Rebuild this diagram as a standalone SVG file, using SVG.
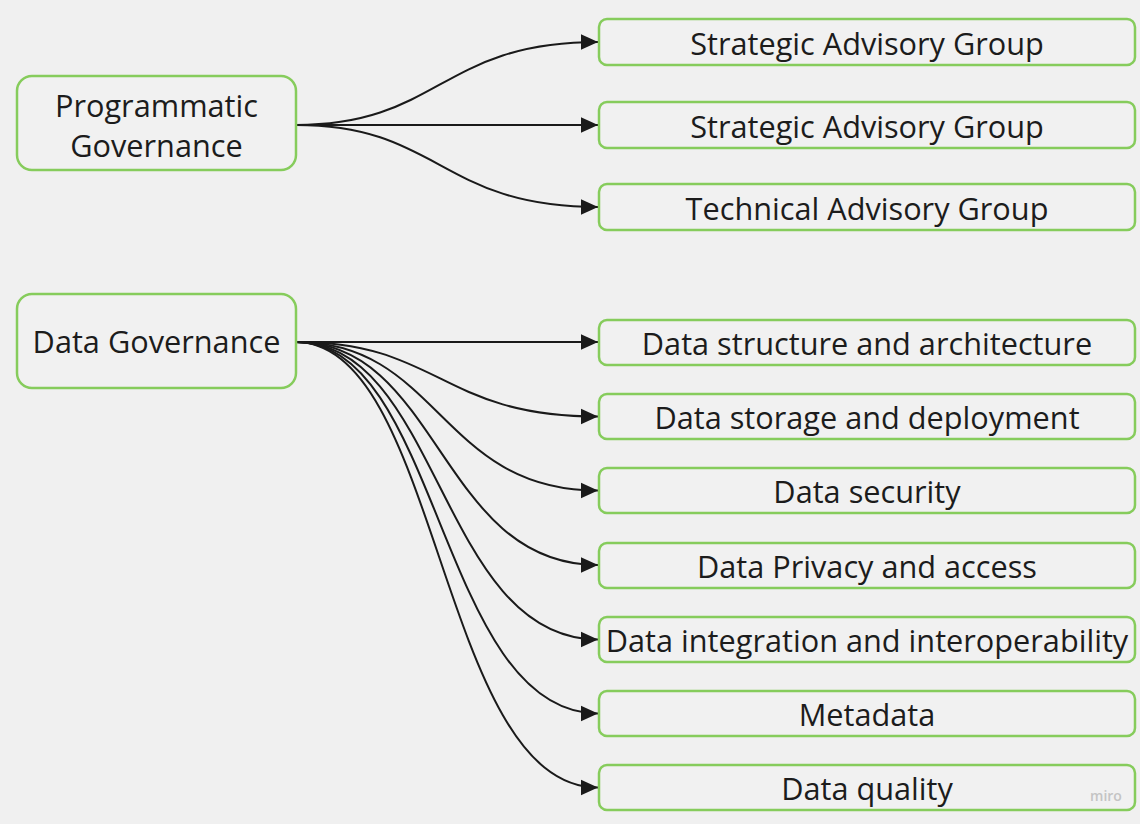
<svg xmlns="http://www.w3.org/2000/svg" width="1140" height="824" viewBox="0 0 1140 824">
<style>
.bg{fill:#f0f0f0}
.box{fill:#f1f1f1;stroke:#86cc5c;stroke-width:2.5}
.t{font-family:"Open Sans","Liberation Sans",sans-serif;font-size:30.7px;fill:#1c1c1c;text-anchor:middle;dominant-baseline:central}
.c{fill:none;stroke:#1a1a1a;stroke-width:2}
.wm{font-family:"Open Sans","Liberation Sans",sans-serif;font-size:14px;font-weight:600;fill:#c4c4c4;text-anchor:middle}
</style>
<defs>
<marker id="ah" viewBox="0 0 10 10" refX="10" refY="5" markerWidth="17" markerHeight="17" markerUnits="userSpaceOnUse" orient="auto">
<path d="M0,0.5 L10,5 L0,9.5 Z" fill="#1a1a1a"/>
</marker>
</defs>
<rect class="bg" x="0" y="0" width="1140" height="824"/>
<g id="connectors">
<path class="c" marker-end="url(#ah)" d="M296,125 C440,125 440,42 598,42"/>
<path class="c" marker-end="url(#ah)" d="M296,125 L598,125"/>
<path class="c" marker-end="url(#ah)" d="M296,125 C440,125 440,207 598,207"/>
<path class="c" marker-end="url(#ah)" d="M296,342 L598,342"/>
<path class="c" marker-end="url(#ah)" d="M296,342 C440,342 440,416.5 598,416.5"/>
<path class="c" marker-end="url(#ah)" d="M296,342 C440,342 440,490.5 598,490.5"/>
<path class="c" marker-end="url(#ah)" d="M296,342 C440,342 440,565 598,565"/>
<path class="c" marker-end="url(#ah)" d="M296,342 C440,342 440,639.5 598,639.5"/>
<path class="c" marker-end="url(#ah)" d="M296,342 C440,342 440,713.5 598,713.5"/>
<path class="c" marker-end="url(#ah)" d="M296,342 C440,342 440,787.5 598,787.5"/>
</g>
<g id="programmatic-governance">
<rect class="box" x="17" y="76" width="279" height="94" rx="15"/>
<text class="t" x="156.5" y="105">Programmatic</text>
<text class="t" x="156.5" y="145">Governance</text>
</g>
<g id="data-governance">
<rect class="box" x="17" y="294" width="279" height="94" rx="15"/>
<text class="t" x="156.5" y="341">Data Governance</text>
</g>
<g id="strategic-advisory-group-1">
<rect class="box" x="599" y="19" width="536" height="46" rx="8"/>
<text class="t" x="867" y="43">Strategic Advisory Group</text>
</g>
<g id="strategic-advisory-group-2">
<rect class="box" x="599" y="102" width="536" height="46" rx="8"/>
<text class="t" x="867" y="126">Strategic Advisory Group</text>
</g>
<g id="technical-advisory-group">
<rect class="box" x="599" y="184" width="536" height="46" rx="8"/>
<text class="t" x="867" y="208">Technical Advisory Group</text>
</g>
<g id="data-structure">
<rect class="box" x="599" y="320" width="536" height="45" rx="8"/>
<text class="t" x="867" y="343">Data structure and architecture</text>
</g>
<g id="data-storage">
<rect class="box" x="599" y="394" width="536" height="45" rx="8"/>
<text class="t" x="867" y="417">Data storage and deployment</text>
</g>
<g id="data-security">
<rect class="box" x="599" y="468" width="536" height="45" rx="8"/>
<text class="t" x="867" y="491">Data security</text>
</g>
<g id="data-privacy">
<rect class="box" x="599" y="543" width="536" height="45" rx="8"/>
<text class="t" x="867" y="566">Data Privacy and access</text>
</g>
<g id="data-integration">
<rect class="box" x="599" y="617" width="536" height="45" rx="8"/>
<text class="t" x="867" y="640">Data integration and interoperability</text>
</g>
<g id="metadata">
<rect class="box" x="599" y="691" width="536" height="45" rx="8"/>
<text class="t" x="867" y="714">Metadata</text>
</g>
<g id="data-quality">
<rect class="box" x="599" y="765" width="536" height="45" rx="8"/>
<text class="t" x="867" y="788">Data quality</text>
</g>
<text class="wm" x="1106" y="801">miro</text>
</svg>
